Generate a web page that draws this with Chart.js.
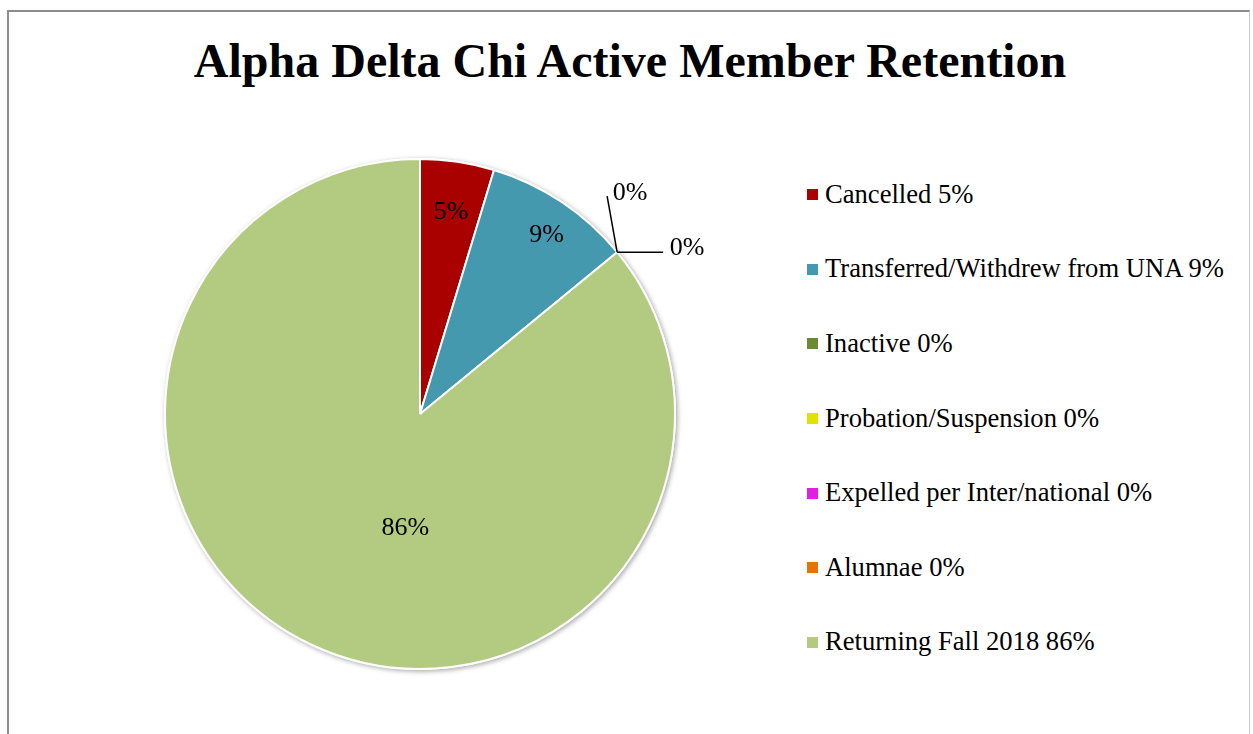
<!DOCTYPE html>
<html>
<head>
<meta charset="utf-8">
<script src="https://cdn.jsdelivr.net/npm/chart.js@4.4.0/dist/chart.umd.min.js"></script>
<style>
    body { margin: 0; background: #fff; font-family: "Liberation Serif", "Times New Roman", serif; }
    #frame {
        position: absolute; left: 7px; top: 10px; width: 1243px; height: 740px;
        border: 2px solid #8c8c8c; border-right: 1px solid #c8c8c8; box-sizing: border-box;
    }
    #title {
        position: absolute; left: 0; top: 31px; width: 1260px; margin: 0;
        text-align: center; font-size: 48px; font-weight: bold; line-height: 60px; color: #000;
    }
    #chart-wrap { position: absolute; left: 0; top: 0; width: 800px; height: 734px; }
    #legend ul { list-style: none; margin: 0; padding: 0; }
    #legend { position: absolute; left: 807px; top: 157px; }
</style>
</head>
<body>
<div id="frame"></div>
<h1 id="title">Alpha Delta Chi Active Member Retention</h1>
<div id="chart-wrap"><canvas id="retention-pie"></canvas></div>
<div id="legend"><ul></ul></div>
<script>
// Categories and member counts (shares)
const categories = [
    "Cancelled",
    "Transferred/Withdrew from UNA",
    "Inactive",
    "Probation/Suspension",
    "Expelled per Inter/national",
    "Alumnae",
    "Returning Fall 2018",
];
const members = [3, 6, 0, 0, 0, 0, 55];
const percentLabels = ["5%", "9%", "0%", "0%", "0%", "0%", "86%"];
const sliceColors = ["#a90000", "#4499af", "#6a8a35", "#e2e200", "#e020e0", "#e2740a", "#b3cb80"];

const ctx = document.getElementById("retention-pie");

// Soft shadow around the pie, drawn from the first arc's geometry
const pieShadow = {
    id: "pieShadow",
    beforeDatasetsDraw(c) {
        const arc = c.getDatasetMeta(0).data[0];
        if (!arc) return;
        const g = c.ctx;
        g.save();
        g.shadowColor = "rgba(0,0,0,0.35)";
        g.shadowBlur = 5;
        g.shadowOffsetX = 1.5;
        g.shadowOffsetY = 1.5;
        g.fillStyle = "#fff";
        g.beginPath();
        g.arc(arc.x, arc.y, arc.outerRadius + 1, 0, Math.PI * 2);
        g.fill();
        g.restore();
    },
};

// Percent labels inside the slices, leader lines for the empty ones
const sliceLabels = {
    id: "sliceLabels",
    afterDatasetsDraw(c, args, opts) {
        const g = c.ctx;
        const arcs = c.getDatasetMeta(0).data;
        g.save();
        g.font = "26px 'Liberation Serif', 'Times New Roman', serif";
        g.fillStyle = "#000";
        g.textAlign = "center";
        g.textBaseline = "middle";
        let zeroCount = 0;
        arcs.forEach((arc, i) => {
            const R = arc.outerRadius;
            if (members[i] > 0) {
                const place = opts.inside[i] || { r: 0.6, a: 0 };
                const mid = (arc.startAngle + arc.endAngle) / 2 + (place.a || 0) * Math.PI / 180;
                g.fillText(percentLabels[i], arc.x + Math.cos(mid) * R * place.r, arc.y + Math.sin(mid) * R * place.r);
                return;
            }
            const lead = opts.leaders[zeroCount++];
            if (!lead) return;
            const x0 = arc.x + Math.cos(arc.startAngle) * R;
            const y0 = arc.y + Math.sin(arc.startAngle) * R;
            const x1 = x0 + lead.dx, y1 = y0 + lead.dy;
            g.strokeStyle = "#000";
            g.lineWidth = 1.5;
            g.beginPath();
            g.moveTo(x0, y0);
            g.lineTo(x1, y1);
            g.stroke();
            g.fillText(percentLabels[i], x1 + lead.tx, y1 + lead.ty);
        });
        g.restore();
    },
};

const chart = new Chart(ctx, {
    type: "pie",
    data: {
        labels: categories,
        datasets: [
            {
                data: members,
                backgroundColor: sliceColors,
                borderColor: "#ffffff",
                borderWidth: 2,
            },
        ],
    },
    options: {
        responsive: true,
        maintainAspectRatio: false,
        animation: false,
        layout: {
            padding: { left: 164, right: 124, top: 158, bottom: 64 },
        },
        plugins: {
            legend: { display: false },
            tooltip: { enabled: false },
            htmlLegend: { containerID: "legend" },
            sliceLabels: {
                inside: {
                    0: { r: 0.8, a: 0.3 },
                    1: { r: 0.86, a: 1.5 },
                    6: { r: 0.45, a: -18 },
                },
                leaders: [
                    { dx: -10, dy: -56, tx: 23, ty: -3 },
                    { dx: 46, dy: 0, tx: 24, ty: -4 },
                ],
            },
        },
    },
    plugins: [
        pieShadow,
        sliceLabels,
        {
            id: "htmlLegend",
            afterUpdate(c, args, options) {
                const ul = document.getElementById(options.containerID).querySelector("ul");
                while (ul.firstChild) ul.firstChild.remove();
                categories.forEach((name, i) => {
                    const li = document.createElement("li");
                    li.style.display = "flex";
                    li.style.alignItems = "center";
                    li.style.height = "74.6px";
                    li.style.fontSize = "26.6px";
                    li.style.color = "#000";
                    const box = document.createElement("span");
                    box.style.display = "block";
                    box.style.width = "11px";
                    box.style.height = "11px";
                    box.style.marginRight = "7px";
                    box.style.marginTop = "1px";
                    box.style.background = sliceColors[i];
                    li.appendChild(box);
                    li.appendChild(document.createTextNode(name + " " + percentLabels[i]));
                    ul.appendChild(li);
                });
            },
        },
    ],
});
</script>
</body>
</html>
